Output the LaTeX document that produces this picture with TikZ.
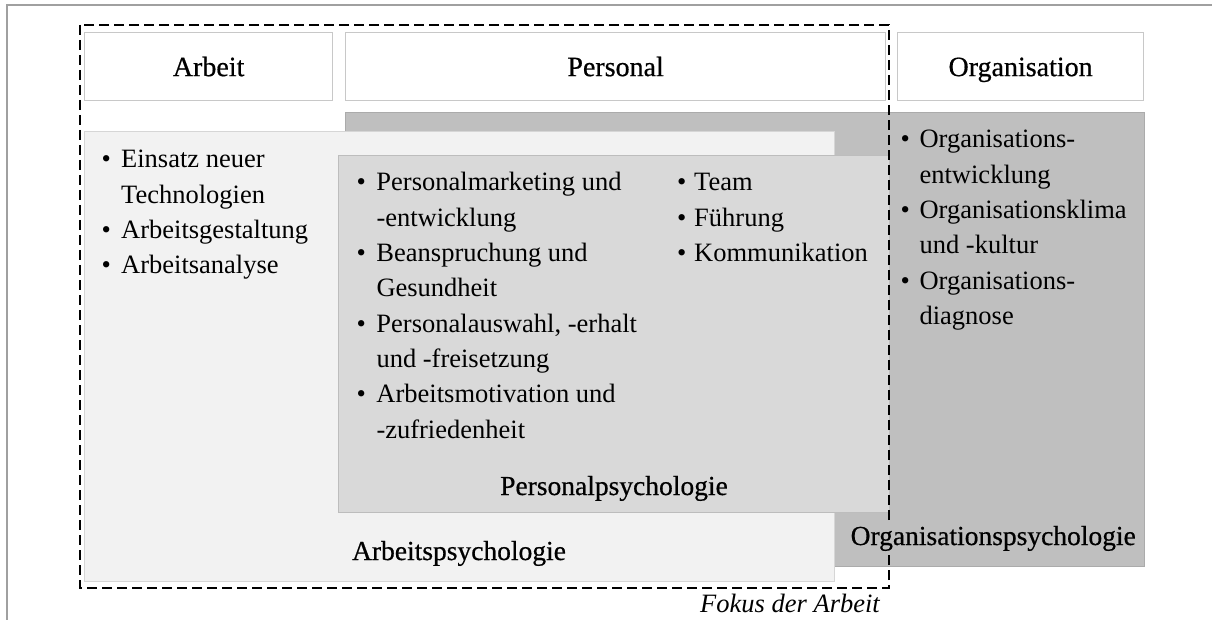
\documentclass[tikz,border=0pt]{standalone}
\usepackage{fontspec}
\setmainfont{Liberation Serif}
\newfontfamily\titlefont[FakeBold=0.6]{Liberation Serif}
\definecolor{framegray}{HTML}{A0A0A0}
\definecolor{hdrline}{HTML}{C8C8C8}
\definecolor{orgfill}{HTML}{BFBFBF}
\definecolor{orgline}{HTML}{ABABAB}
\definecolor{perfill}{HTML}{D9D9D9}
\definecolor{perline}{HTML}{BDBDBD}
\definecolor{arbfill}{HTML}{F2F2F2}
\definecolor{arbline}{HTML}{D6D6D6}
% bullet items with a hanging indent
\newcommand\bitem[2][19.5pt]{\makebox[#1][l]{\textbullet}#2}
\newcommand\bcont[2][19.5pt]{\hspace*{#1}#2}
\begin{document}
\begin{tikzpicture}[x=1pt,y=-1pt,
  hdr/.style={draw=hdrline,fill=white,line width=1.2pt,inner sep=0pt,
    anchor=north west,minimum height=68pt,text height=19pt,text depth=0pt,
    font=\titlefont\fontsize{28pt}{33pt}\selectfont},
  area/.style={line width=1.2pt,inner sep=0pt,anchor=north west},
  listtxt/.style={inner sep=0pt,anchor=base west,
    font=\fontsize{26.5pt}{35.3pt}\selectfont},
  areatitle/.style={inner sep=0pt,anchor=base,
    font=\titlefont\fontsize{27.5pt}{33pt}\selectfont},
  focusline/.style={dash pattern=on 10pt off 5pt,line width=1.5pt}]
\useasboundingbox (0,0) rectangle (1212,620);

% page frame
\draw[framegray,line width=1.2pt] (1212,5) -- (7,5) -- (7,620);

% column headers
\node[hdr,minimum width=248pt] (arbeit) at (84,32) {Arbeit};
\node[hdr,minimum width=540pt] (personal) at (345,32) {Personal};
\node[hdr,minimum width=246pt] (organisation) at (897,32) {Organisation};

% nested areas
\node[area,draw=orgline,fill=orgfill,minimum width=799pt,minimum height=454pt]
  (orgarea) at (345,112) {};
\node[area,draw=arbline,fill=arbfill,minimum width=750pt,minimum height=450pt]
  (arbarea) at (84,131) {};
\node[area,draw=perline,fill=perfill,minimum width=551pt,minimum height=357pt]
  (perarea) at (338,155) {};

% focus of the thesis
\draw[focusline] (80,25) rectangle (889,588);

% topic lists
\node[listtxt] (arblist) at (101.5,168) {\begin{tabular}[t]{@{}l@{}}
  \bitem{Einsatz neuer}\\
  \bcont{Technologien}\\
  \bitem{Arbeitsgestaltung}\\
  \bitem{Arbeitsanalyse}
\end{tabular}};

\node[listtxt] (perlist) at (356.3,191) {\begin{tabular}[t]{@{}l@{}}
  \bitem[20pt]{Personalmarketing und}\\
  \bcont[20pt]{-entwicklung}\\
  \bitem[20pt]{Beanspruchung und}\\
  \bcont[20pt]{Gesundheit}\\
  \bitem[20pt]{Personalauswahl, -erhalt}\\
  \bcont[20pt]{und -freisetzung}\\
  \bitem[20pt]{Arbeitsmotivation und}\\
  \bcont[20pt]{-zufriedenheit}
\end{tabular}};

\node[listtxt] (teamlist) at (677,191) {\begin{tabular}[t]{@{}l@{}}
  \bitem[17pt]{Team}\\
  \bitem[17pt]{Führung}\\
  \bitem[17pt]{Kommunikation}
\end{tabular}};

\node[listtxt] (orglist) at (900.4,148) {\begin{tabular}[t]{@{}l@{}}
  \bitem[19pt]{Organisations-}\\
  \bcont[19pt]{entwicklung}\\
  \bitem[19pt]{Organisationsklima}\\
  \bcont[19pt]{und -kultur}\\
  \bitem[19pt]{Organisations-}\\
  \bcont[19pt]{diagnose}
\end{tabular}};

% area titles
\node[areatitle] (pertitle) at (614,495) {Personalpsychologie};
\node[areatitle] (arbtitle) at (459,560) {Arbeitspsychologie};
\node[areatitle,anchor=base east,fill=orgfill,inner ysep=2pt] (orgtitle)
  at (1136,545) {Organisationspsychologie};
\node[inner sep=0pt,anchor=base east,font=\fontsize{26.5pt}{32pt}\selectfont\itshape]
  (focus) at (880,612) {Fokus der Arbeit};
\end{tikzpicture}
\end{document}
